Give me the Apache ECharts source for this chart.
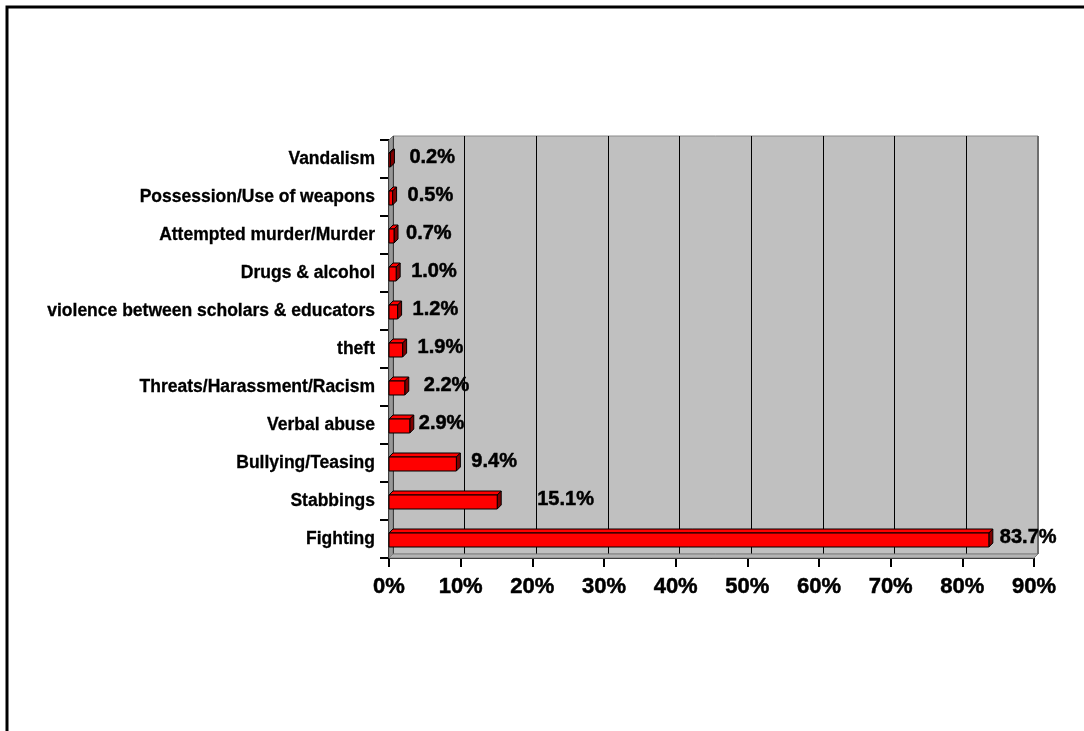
<!DOCTYPE html>
<html>
<head>
<meta charset="utf-8">
<title>Types of school violence</title>
<script src="https://cdn.jsdelivr.net/npm/echarts@6/dist/echarts.min.js"></script>
<style>
  html, body { margin: 0; padding: 0; background: #ffffff; }
  #chart { width: 1084px; height: 731px; }
</style>
</head>
<body>
<div id="chart"></div>
<script>
// Incident categories, listed top to bottom
const categories = [
  'Vandalism',
  'Possession/Use of weapons',
  'Attempted murder/Murder',
  'Drugs & alcohol',
  'violence between scholars & educators',
  'theft',
  'Threats/Harassment/Racism',
  'Verbal abuse',
  'Bullying/Teasing',
  'Stabbings',
  'Fighting'
];

// Share of reported incidents (%)
const shares = [0.2, 0.5, 0.7, 1.0, 1.2, 1.9, 2.2, 2.9, 9.4, 15.1, 83.7];

// Value axis range (%)
const axisMin = 0;
const axisMax = 90;
const axisStep = 10;

// Layout of the plot box and its 3D depth
const G_LEFT = 389, G_TOP = 140, G_W = 645, G_H = 418, DEPTH = 4;
const CHART_W = 1084, CHART_H = 731;

// Extra horizontal shift for a few value labels
const labelShift = {
  'Vandalism': 4,
  'Attempted murder/Murder': -3,
  'Threats/Harassment/Racism': 4,
  'Verbal abuse': -6,
  'Stabbings': 25,
  'Fighting': -4
};

const FONT = '"Liberation Sans", Arial, sans-serif';

function renderBar(params, api) {
  const idx = api.value(1);
  const v = api.value(0);
  const p0 = api.coord([0, idx]);
  const p1 = api.coord([v, idx]);
  const x0 = p0[0], x1 = p1[0], cy = p0[1];
  const top = cy - 6, bot = cy + 8, d = DEPTH;
  const edge = { stroke: '#000000', lineWidth: 1 };
  const name = categories[idx];
  const shift = labelShift[name] || 0;
  return {
    type: 'group',
    children: [
      {
        type: 'polygon',
        shape: { points: [[x0, top], [x1, top], [x1 + d, top - d], [x0 + d, top - d]] },
        style: Object.assign({ fill: '#ff0000' }, edge)
      },
      {
        type: 'polygon',
        shape: { points: [[x1, top], [x1 + d, top - d], [x1 + d, bot - d], [x1, bot]] },
        style: Object.assign({ fill: '#800000' }, edge)
      },
      {
        type: 'rect',
        shape: { x: x0, y: top, width: Math.max(x1 - x0, 0.5), height: bot - top },
        style: Object.assign({ fill: '#ff0000' }, edge)
      },
      {
        type: 'text',
        style: {
          text: v.toFixed(1) + '%',
          x: x1 + 15 + shift,
          y: cy - 2,
          verticalAlign: 'middle',
          align: 'left',
          font: 'bold 20px ' + FONT,
          fill: '#000000',
          stroke: '#000000',
          lineWidth: 0.5
        }
      }
    ]
  };
}

const chart = echarts.init(document.getElementById('chart'), null, { renderer: 'canvas' });

const option = {
  backgroundColor: '#ffffff',
  animation: false,
  grid: [
    // back wall, shifted up and right by the depth
    {
      left: G_LEFT + DEPTH, top: G_TOP - DEPTH, width: G_W, height: G_H,
      show: true, backgroundColor: '#c0c0c0', borderColor: '#8a8a8a', borderWidth: 1
    },
    // front plane carrying the axes and bars
    {
      left: G_LEFT, top: G_TOP, width: G_W, height: G_H
    }
  ],
  xAxis: [
    {
      gridIndex: 0, type: 'value', min: axisMin, max: axisMax, interval: axisStep,
      axisLine: { show: false }, axisTick: { show: false }, axisLabel: { show: false },
      splitLine: { show: true, lineStyle: { color: '#000000', width: 1 } }
    },
    {
      gridIndex: 1, type: 'value', min: axisMin, max: axisMax, interval: axisStep,
      axisLine: { show: true, onZero: false, lineStyle: { color: '#000000', width: 2 } },
      axisTick: { show: true, length: 9, lineStyle: { color: '#000000', width: 2 } },
      axisLabel: {
        formatter: '{value}%', margin: 18,
        color: '#000000', fontFamily: FONT, fontWeight: 'bold', fontSize: 22,
        textBorderColor: '#000000', textBorderWidth: 0.5
      },
      splitLine: { show: false }
    }
  ],
  yAxis: [
    {
      gridIndex: 0, type: 'category', data: categories, inverse: true,
      axisLine: { show: false }, axisTick: { show: false }, axisLabel: { show: false },
      splitLine: { show: false }
    },
    {
      gridIndex: 1, type: 'category', data: categories, inverse: true,
      axisLine: { show: true, lineStyle: { color: '#000000', width: 2 } },
      axisTick: { show: true, length: 9, lineStyle: { color: '#000000', width: 2 } },
      axisLabel: {
        margin: 14, color: '#000000', fontFamily: FONT, fontWeight: 'bold', fontSize: 17.5,
        textBorderColor: '#000000', textBorderWidth: 0.3
      },
      splitLine: { show: false }
    }
  ],
  graphic: [
    // outer frame
    {
      type: 'rect', z: 0, silent: true,
      shape: { x: 7, y: 7, width: CHART_W + 20, height: CHART_H + 20 },
      style: { fill: 'none', stroke: '#000000', lineWidth: 3 }
    },
    // left side wall
    {
      type: 'polygon', z: 1, silent: true,
      shape: { points: [
        [G_LEFT, G_TOP], [G_LEFT + DEPTH, G_TOP - DEPTH],
        [G_LEFT + DEPTH, G_TOP + G_H - DEPTH], [G_LEFT, G_TOP + G_H]
      ] },
      style: { fill: '#979797', stroke: '#7a7a7a', lineWidth: 1 }
    },
    // floor
    {
      type: 'polygon', z: 1, silent: true,
      shape: { points: [
        [G_LEFT, G_TOP + G_H], [G_LEFT + DEPTH, G_TOP + G_H - DEPTH],
        [G_LEFT + G_W + DEPTH, G_TOP + G_H - DEPTH], [G_LEFT + G_W, G_TOP + G_H]
      ] },
      style: { fill: '#b4b4b4', stroke: '#808080', lineWidth: 1 }
    },
    // darker right edge of the back wall
    {
      type: 'line', z: 1, silent: true,
      shape: { x1: G_LEFT + G_W + DEPTH, y1: G_TOP - DEPTH, x2: G_LEFT + G_W + DEPTH, y2: G_TOP + G_H - DEPTH },
      style: { stroke: '#6e6e6e', lineWidth: 2 }
    }
  ],
  series: [
    {
      type: 'custom',
      xAxisIndex: 1,
      yAxisIndex: 1,
      clip: false,
      z: 5,
      renderItem: renderBar,
      encode: { x: 0, y: 1 },
      data: shares.map((v, i) => [v, i])
    }
  ]
};

chart.setOption(option);
</script>
</body>
</html>
